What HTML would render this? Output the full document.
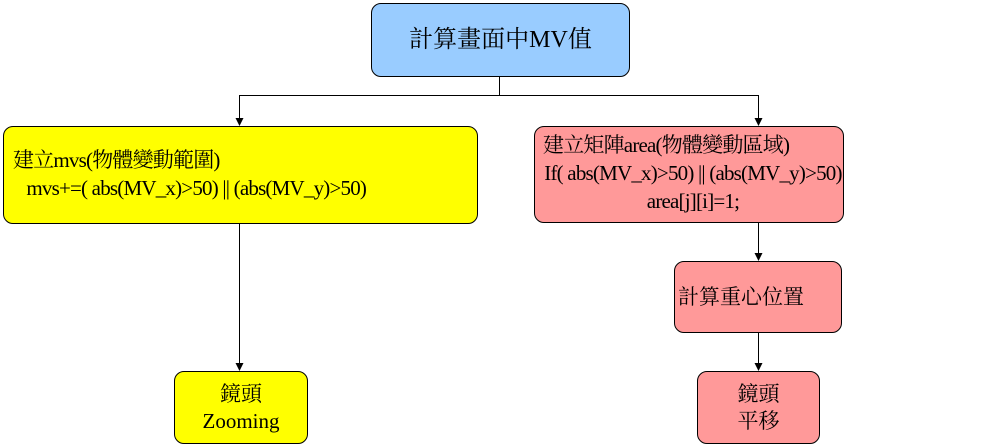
<!DOCTYPE html>
<html><head><meta charset="utf-8"><style>
body{margin:0;width:984px;height:447px;background:#fff;position:relative;overflow:hidden;font-family:"Liberation Serif","Times New Roman",Times,"Noto Serif CJK SC",serif;font-size:21px;color:#000}
.b{position:absolute;box-sizing:border-box;border:1px solid #000;border-radius:10px;line-height:28px;white-space:nowrap}
.c{display:flex;align-items:center;justify-content:center;text-align:center}
.s{letter-spacing:-0.8px}
</style></head><body>
<svg width="984" height="447" style="position:absolute;left:0;top:0">
<g stroke="#000" stroke-width="1" fill="none">
<path d="M499.5 76 V95.5 H239.5 V120"/>
<path d="M499.5 95.5 H758.5 V120"/>
<path d="M239.5 223 V364"/>
<path d="M758.5 222 V254"/>
<path d="M758.5 332 V364"/>
</g>
<g fill="#000">
<path d="M235.5 118 L243.5 118 L239.5 126z"/>
<path d="M754.5 118 L762.5 118 L758.5 126z"/>
<path d="M235.5 363 L243.5 363 L239.5 371z"/>
<path d="M754.5 253 L762.5 253 L758.5 261z"/>
<path d="M754.5 363 L762.5 363 L758.5 371z"/>
</g></svg>
<div class="b c" style="left:371px;top:3px;width:259px;height:74px;background:#99ccff;font-size:24px">計算畫面中MV值</div>
<div class="b s" style="left:3px;top:126px;width:475px;height:98px;background:#ffff00;padding:19px 0 0 9px">建立mvs(物體變動範圍)<br>&nbsp;&nbsp;&nbsp;mvs+=( abs(MV_x)&gt;50) || (abs(MV_y)&gt;50)</div>
<div class="b s" style="left:534px;top:126px;width:310px;height:97px;background:#ff9999;padding:4px 0 0 8px;text-align:center"><div style="text-align:left">建立矩陣area(物體變動區域)</div>If( abs(MV_x)&gt;50) || (abs(MV_y)&gt;50)<br>area[j][i]=1;</div>
<div class="b c" style="left:674px;top:261px;width:168px;height:72px;background:#ff9999;justify-content:flex-start;padding-left:3px">計算重心位置</div>
<div class="b c" style="left:174px;top:371px;width:134px;height:73px;background:#ffff00;line-height:27px">鏡頭<br>Zooming</div>
<div class="b c" style="left:697px;top:371px;width:123px;height:73px;background:#ff9999;line-height:27px">鏡頭<br>平移</div>
</body></html>
